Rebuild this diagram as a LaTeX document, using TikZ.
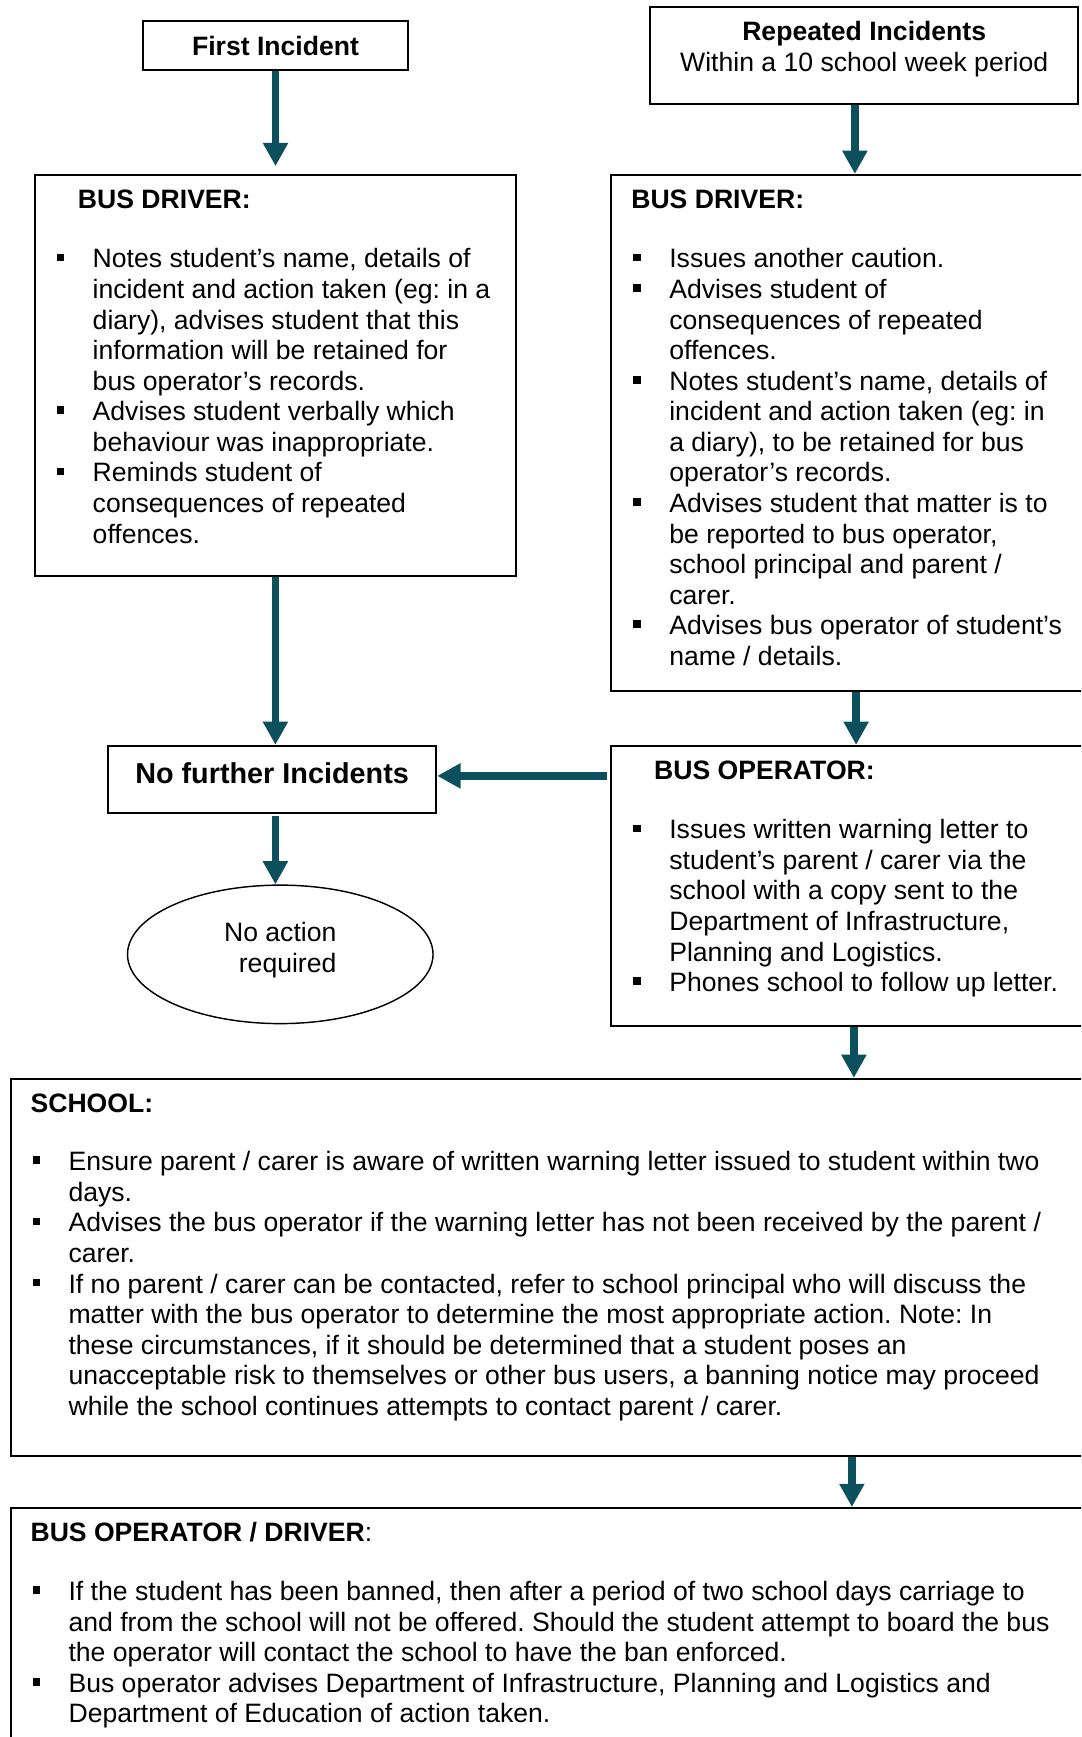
\documentclass[tikz,border=0pt]{standalone}
\usepackage{fontspec}
\setmainfont{Liberation Sans}
\usetikzlibrary{shapes.geometric, arrows.meta, calc}
\frenchspacing

\definecolor{arrowteal}{RGB}{12,80,93}
\newcommand{\sqbul}{\rule[6pt]{6.9pt}{6.9pt}}

\begin{document}
\begin{tikzpicture}[x=1pt, y=-1pt, >={Triangle[length=21pt, width=21.5pt]},
    every node/.style={font=\fontsize{24}{27.6}\selectfont, inner sep=0pt},
    panel/.style={draw, line width=1.7pt, anchor=north west},
    title/.style={font=\fontsize{24}{27.6}\selectfont\bfseries, anchor=base west},
    items/.style={anchor=base west},
    flow/.style={->, draw=arrowteal, line width=7pt}]

\clip (0,0) rectangle (976,1568);

% top row
\node[panel, minimum width=239.1pt, minimum height=44.5pt] (first) at (128.3,18) {};
\node[title, anchor=base] (firstlbl) at ([yshift=-32.1pt]first.north) {First Incident};

\node[panel, minimum width=386.5pt, minimum height=87.8pt] (rep) at (586,5.2) {};
\node[anchor=base] (replbl) at ([yshift=-31.1pt]rep.north) {\begin{tabular}[t]{@{}c@{}}\textbf{Repeated Incidents}\\[0.7pt]
  Within a 10 school week period\end{tabular}};

% bus driver, first incident
\node[panel, minimum width=434.5pt, minimum height=362pt] (drvA) at (30.5,157) {};
\node[title] (drvAhead) at ([shift={(39.7,31.5)}]drvA.north west) {BUS DRIVER:};
\node[items] (drvAlist) at ([shift={(20.5,84.8)}]drvA.north west) {\begin{tabular}[t]{@{}p{32.5pt}@{}l@{}}
  \sqbul & Notes student’s name, details of\\
         & incident and action taken (eg: in a\\
         & diary), advises student that this\\
         & information will be retained for\\
         & bus operator’s records.\\
  \sqbul & Advises student verbally which\\
         & behaviour was inappropriate.\\
  \sqbul & Reminds student of\\
         & consequences of repeated\\
         & offences.
\end{tabular}};

% bus driver, repeated incidents
\node[panel, minimum width=440pt, minimum height=466pt] (drvB) at (551,157) {};
\node[title] (drvBhead) at ([shift={(18.7,31.5)}]drvB.north west) {BUS DRIVER:};
\node[items] (drvBlist) at ([shift={(20.5,84.8)}]drvB.north west) {\begin{tabular}[t]{@{}p{32.5pt}@{}l@{}}
  \sqbul & Issues another caution.\\
  \sqbul & Advises student of\\
         & consequences of repeated\\
         & offences.\\
  \sqbul & Notes student’s name, details of\\
         & incident and action taken (eg: in\\
         & a diary), to be retained for bus\\
         & operator’s records.\\
  \sqbul & Advises student that matter is to\\
         & be reported to bus operator,\\
         & school principal and parent /\\
         & carer.\\
  \sqbul & Advises bus operator of student’s\\
         & name / details.
\end{tabular}};

% middle row
\node[panel, minimum width=296.5pt, minimum height=60.7pt] (nofur) at (96.5,672.4) {};
\node[title, anchor=base, font=\fontsize{26}{30}\selectfont\bfseries] (nofurlbl) at ([yshift=-34.6pt]nofur.north) {No further Incidents};

\node[draw, ellipse, line width=1.3pt, minimum width=275.8pt, minimum height=125pt] (noact) at (253,861.5) {};
\node[align=right] (noacttxt) at ([yshift=3.85pt]noact.center) {No action\\required};

\node[panel, minimum width=440pt, minimum height=252.6pt] (busop) at (551,672.4) {};
\node[title] (busophead) at ([shift={(39.3,31.5)}]busop.north west) {BUS OPERATOR:};
\node[items] (busoplist) at ([shift={(20.5,84.8)}]busop.north west) {\begin{tabular}[t]{@{}p{32.5pt}@{}l@{}}
  \sqbul & Issues written warning letter to\\
         & student’s parent / carer via the\\
         & school with a copy sent to the\\
         & Department of Infrastructure,\\
         & Planning and Logistics.\\
  \sqbul & Phones school to follow up letter.
\end{tabular}};

% school
\node[panel, minimum width=990pt, minimum height=340.7pt] (school) at (8.7,973) {};
\node[title] (schoolhead) at ([shift={(18.7,31.5)}]school.north west) {SCHOOL:};
\node[items] (schoollist) at ([shift={(20.5,83.8)}]school.north west) {\begin{tabular}[t]{@{}p{32.5pt}@{}l@{}}
  \sqbul & Ensure parent / carer is aware of written warning letter issued to student within two\\
         & days.\\
  \sqbul & Advises the bus operator if the warning letter has not been received by the parent /\\
         & carer.\\
  \sqbul & If no parent / carer can be contacted, refer to school principal who will discuss the\\
         & matter with the bus operator to determine the most appropriate action. Note: In\\
         & these circumstances, if it should be determined that a student poses an\\
         & unacceptable risk to themselves or other bus users, a banning notice may proceed\\
         & while the school continues attempts to contact parent / carer.
\end{tabular}};

% bus operator / driver
\node[panel, minimum width=990pt, minimum height=260pt] (bod) at (8.7,1360.4) {};
\node[title] (bodhead) at ([shift={(18.7,31.5)}]bod.north west) {BUS OPERATOR / DRIVER\mdseries:};
\node[items] (bodlist) at ([shift={(20.5,84.3)}]bod.north west) {\begin{tabular}[t]{@{}p{32.5pt}@{}l@{}}
  \sqbul & If the student has been banned, then after a period of two school days carriage to\\
         & and from the school will not be offered. Should the student attempt to board the bus\\
         & the operator will contact the school to have the ban enforced.\\
  \sqbul & Bus operator advises Department of Infrastructure, Planning and Logistics and\\
         & Department of Education of action taken.
\end{tabular}};

% arrows
\coordinate (repout) at ([xshift=-8.4pt]rep.south);
\coordinate (drvBout) at ([xshift=221.8pt]drvB.south west);
\coordinate (busopin) at ([shift={(-3,28)}]busop.north west);
\coordinate (busopout) at ([xshift=219.8pt]busop.south west);
\coordinate (schoolout) at ([xshift=760.3pt]school.south west);

\draw[flow, shorten >=7pt] (first.south) -- (first.south |- drvA.north);
\draw[flow] (repout) -- (repout |- drvB.north);
\draw[flow] (drvA.south) -- (drvA.south |- nofur.north);
\draw[flow] (drvBout) -- (drvBout |- busop.north);
\draw[flow] (busopin) -- (busopin -| nofur.east);
\draw[flow, shorten <=2pt] (drvA.south |- nofur.south) -- (drvA.south |- noact.north);
\draw[flow] (busopout) -- (busopout |- school.north);
\draw[flow] (schoolout) -- (schoolout |- bod.north);

\end{tikzpicture}
\end{document}
